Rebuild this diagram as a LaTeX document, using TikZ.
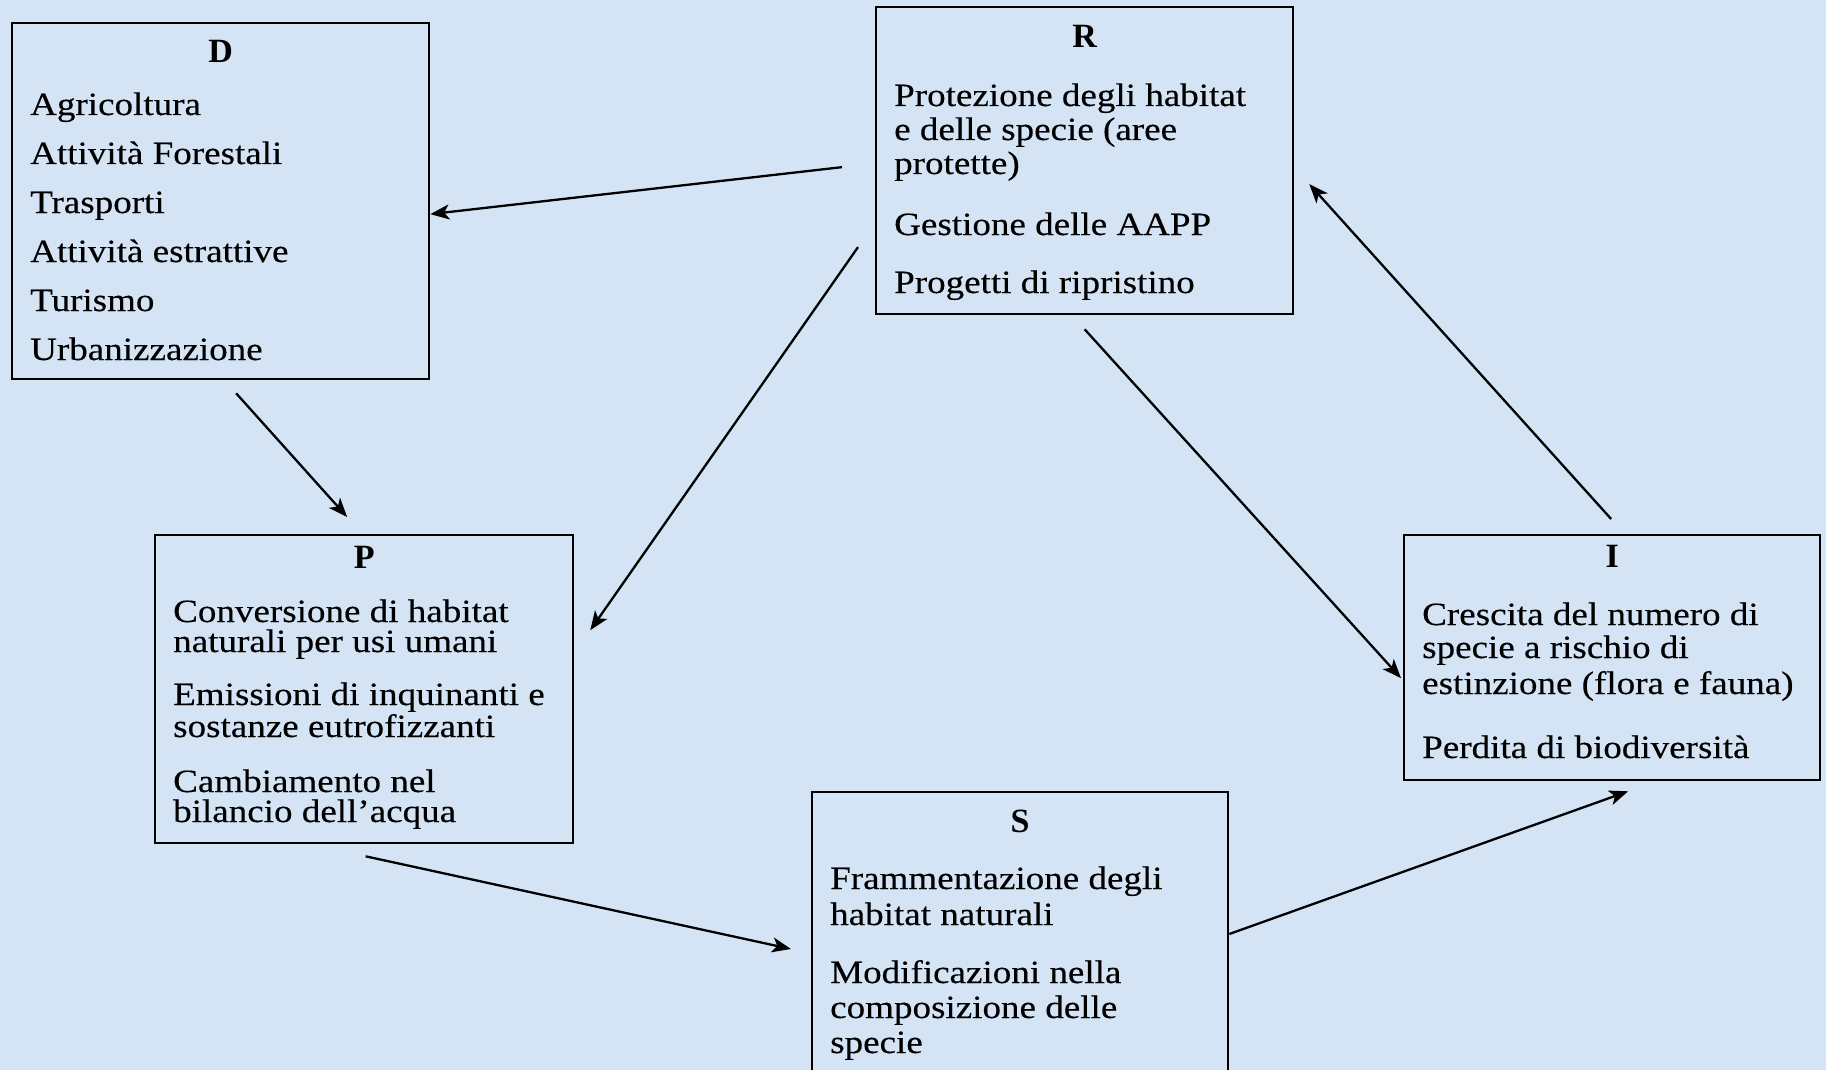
\documentclass[tikz,border=0pt]{standalone}
\usepackage{fontspec}
\setmainfont{Liberation Serif}
\newfontfamily\bodyfont{Liberation Serif}[FakeStretch=1.14,FakeBold=0.3]
\usetikzlibrary{positioning,arrows.meta,calc}
\definecolor{slidebg}{RGB}{212,228,245}
\tikzset{
  box/.style={draw,line width=2.3pt,inner sep=0pt,anchor=north west},
  ttl/.style={font=\fontsize{34}{34}\selectfont\bfseries,anchor=base,inner sep=0pt},
  item/.style={font=\bodyfont\fontsize{32.5}{32.5}\selectfont,anchor=base west,inner sep=0pt},
  conn/.style={-{Stealth[length=19pt,width=15pt,inset=5pt]},line width=2.3pt}, % link between boxes
}

\begin{document}
\begin{tikzpicture}[x=1pt,y=-1pt]
  \fill[slidebg] (0,0) rectangle (1826,1070);
  \clip (0,0) rectangle (1826,1070);
  % boxes
  \node[box,minimum width=417pt,minimum height=356pt] (D) at (11,22) {};
  \node[box,minimum width=417pt,minimum height=307pt] (R) at (875,6) {};
  \node[box,minimum width=418pt,minimum height=308pt] (P) at (154,534) {};
  \node[box,minimum width=416pt,minimum height=245pt] (I) at (1403,534) {};
  \node[box,minimum width=416pt,minimum height=300pt] (S) at (811,791) {};
  % titles
  \node[ttl] (D-t) at ($(D.north)+(0,41)$) {D};
  \node[ttl] (R-t) at ($(R.north)+(0,42)$) {R};
  \node[ttl] (P-t) at ($(P.north)+(0,34)$) {P};
  \node[ttl] (I-t) at ($(I.north)+(0,33)$) {I};
  \node[ttl] (S-t) at ($(S.north)+(0,41)$) {S};
  % texts
  \foreach \y/\txt [count=\k] in {93/Agricoltura,142/Attività Forestali,191/Trasporti,
      240/Attività estrattive,289/Turismo,338/Urbanizzazione}
    \node[item] (D-\k) at ($(D.north west)+(19,\y)$) {\txt};
  \foreach \y/\txt [count=\k] in {100/Protezione degli habitat,134/e delle specie (aree,
      168/protette),229/Gestione delle AAPP,287/Progetti di ripristino}
    \node[item] (R-\k) at ($(R.north west)+(19,\y)$) {\txt};
  \foreach \y/\txt [count=\k] in {88/Conversione di habitat,118/naturali per usi umani,
      171/Emissioni di inquinanti e,203/sostanze eutrofizzanti,
      258/Cambiamento nel,288/bilancio dell’acqua}
    \node[item] (P-\k) at ($(P.north west)+(19,\y)$) {\txt};
  \foreach \y/\txt [count=\k] in {91/Crescita del numero di,124/specie a rischio di,
      160/estinzione (flora e fauna),224/Perdita di biodiversità}
    \node[item] (I-\k) at ($(I.north west)+(19,\y)$) {\txt};
  \foreach \y/\txt [count=\k] in {98/Frammentazione degli,134/habitat naturali,
      192/Modificazioni nella,227/composizione delle,262/specie}
    \node[item] (S-\k) at ($(S.north west)+(19,\y)$) {\txt};
  % links
  \draw[conn] ($(R.west)+(-33,6.5)$) -- ($(D.east)+(0,13)$);
  \draw[conn] ($(D.south)+(15.5,13)$) -- ($(P.north)+(-17,-17)$);
  \draw[conn] ($(R.west)+(-17,86.5)$) -- ($(P.east)+(16,-59)$);
  \draw[conn] ($(R.south)+(0,14)$) -- ($(I.west)+(-2,20.5)$);
  \draw[conn] ($(I.north)+(-1,-15)$) -- ($(R.east)+(15,23.5)$);
  \draw[conn] ($(P.south)+(1.5,12)$) -- ($(S.north west)+(-20,158)$);
  \draw[conn] ($(S.north east)+(0,143)$) -- ($(I.south)+(16,10)$);
\end{tikzpicture}
\end{document}
